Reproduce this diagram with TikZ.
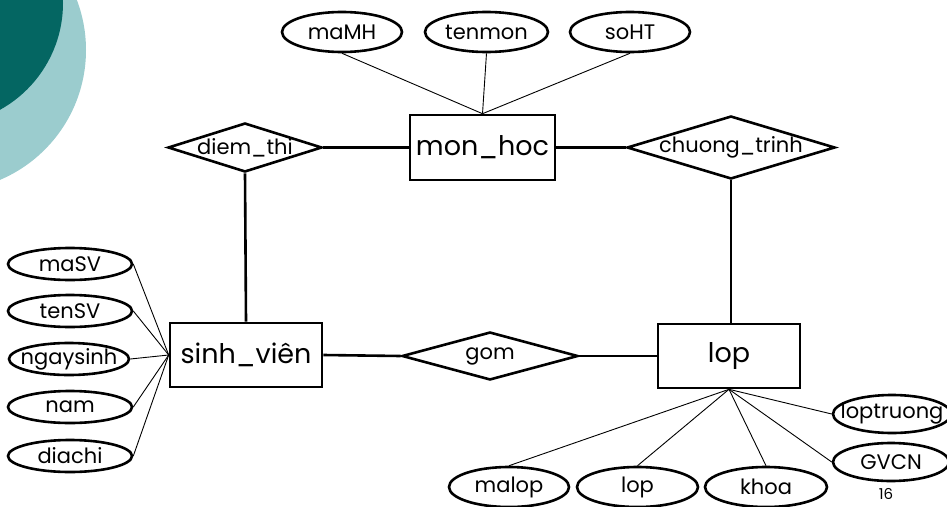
\documentclass[tikz,border=0pt]{standalone}
\usepackage{fontspec}
\setmainfont{Poppins}
\usetikzlibrary{shapes.geometric}
\definecolor{darkteal}{HTML}{046662}
\definecolor{lightteal}{HTML}{9BCCCE}
\newcommand{\zw}[1]{\makebox[0pt]{#1}}
\begin{document}
\begin{tikzpicture}[x=1pt,y=-1pt,
  ent/.style={draw,line width=2.6pt,rectangle,inner sep=0pt,font=\fontsize{27}{29}\selectfont},
  rel/.style={draw,line width=2.6pt,diamond,inner sep=0pt,font=\fontsize{21}{23}\selectfont},
  attr/.style={draw,line width=2.6pt,ellipse,inner sep=0pt,font=\fontsize{21}{23}\selectfont},
  thick link/.style={line width=2.6pt},
  thin link/.style={line width=0.9pt}]
\useasboundingbox (0,0) rectangle (947,506);
\clip (0,0) rectangle (947,506);
% decoration
\fill[lightteal] (-55,50) circle (141);
\fill[darkteal] (-59,3) circle (122);
% entities
\node[ent,minimum width=145pt,minimum height=65pt] (mh) at (482.5,147.5) {mon\_hoc};
\node[ent,minimum width=152pt,minimum height=64pt] (sv) at (246,355) {sinh\_viên};
\node[ent,minimum width=142pt,minimum height=64pt] (lop) at (729,356) {lop};
% relations
\node[rel,minimum width=154pt,minimum height=49pt] (dt) at (245,147.5) {\zw{diem\_thi}};
\node[rel,minimum width=208pt,minimum height=63pt] (ct) at (731,147.5) {\zw{chuong\_trinh}};
\node[rel,minimum width=176pt,minimum height=48pt] (gom) at (490,356) {\zw{gom}};
% attributes of mon_hoc
\node[attr,minimum width=120pt,minimum height=40pt] (mamh) at (342,32) {maMH};
\node[attr,minimum width=123pt,minimum height=40pt] (tenmon) at (486.5,32) {tenmon};
\node[attr,minimum width=120pt,minimum height=40pt] (soht) at (630,32) {soHT};
% attributes of sinh_vien
\node[attr,minimum width=124pt,minimum height=32pt] (masv) at (70,264) {maSV};
\node[attr,minimum width=124pt,minimum height=32pt] (tensv) at (70,311) {tenSV};
\node[attr,minimum width=120pt,minimum height=32pt] (ngs) at (69,359) {\zw{ngaysinh}};
\node[attr,minimum width=124pt,minimum height=32pt] (nam) at (70,407) {nam};
\node[attr,minimum width=124pt,minimum height=32pt] (dc) at (70,456) {diachi};
% attributes of lop
\node[attr,minimum width=120pt,minimum height=40pt] (malop) at (509,487) {malop};
\node[attr,minimum width=121pt,minimum height=40pt] (lopa) at (637.5,487) {lop};
\node[attr,minimum width=122pt,minimum height=40pt] (khoa) at (766,487) {khoa};
\node[attr,minimum width=118pt,minimum height=38pt] (lt) at (892,414) {\zw{loptruong}};
\node[attr,minimum width=116pt,minimum height=38pt] (gvcn) at (891,462) {GVCN};
% page number
\node[font=\fontsize{15}{17}\selectfont,inner sep=0pt] (pg) at (886,494) {16};
% thick connectors
\draw[thick link] (dt.east) -- (mh.west);
\draw[thick link] (mh.east) -- (ct.west);
\draw[thick link] (dt.south) -- (sv.north);
\draw[thick link] (ct.south) -- (ct.south |- lop.north);
\draw[thick link] (sv.east) -- (gom.west);
\draw[thick link] (gom.east) -- (lop.west);
% thin connectors
\foreach \a in {mamh,tenmon,soht} \draw[thin link] (\a.south) -- (mh.north);
\foreach \a in {masv,tensv,ngs,nam,dc} \draw[thin link] (\a.east) -- (sv.west);
\foreach \a in {malop,lopa,khoa} \draw[thin link] (lop.south) -- (\a.north);
\foreach \a in {lt,gvcn} \draw[thin link] (lop.south) -- (\a.west);
\end{tikzpicture}
\end{document}
